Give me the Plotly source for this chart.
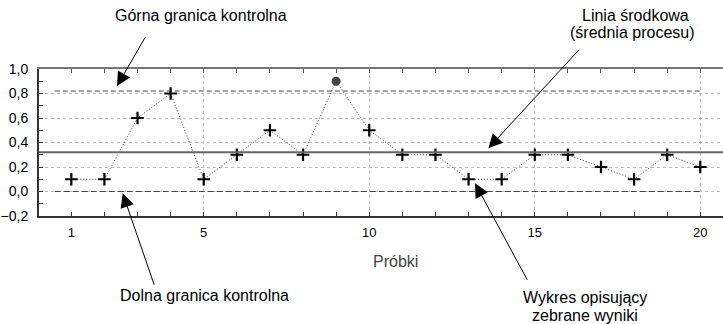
import numpy as np
import plotly.graph_objects as go

# ---- data ----
samples = list(range(1, 21))
values = [0.1, 0.1, 0.6, 0.8, 0.1, 0.3, 0.5, 0.3, 0.9, 0.5,
          0.3, 0.3, 0.1, 0.1, 0.3, 0.3, 0.2, 0.1, 0.3, 0.2]
UCL = 0.82
CENTER = 0.32
LCL = 0.0
x_tick_labels = [1, 5, 10, 15, 20]
x_grid_vals = [5, 10, 15, 20]
x_title = "Próbki"
label_ucl = "Górna granica kontrolna"
label_lcl = "Dolna granica kontrolna"
label_center = ["Linia środkowa", "(średnia procesu)"]
label_series = ["Wykres opisujący", "zebrane wyniki"]

W, H = 723, 324
L, T, B = 39, 69, 216  # plot area pixel edges
XR = [0.024, 20.686]
YR = [-0.2, 1.0]

s = np.array(samples)
v = np.array(values)
out = v > UCL

def px(xp, yp):
    return (xp - L) / (W - L), (B - yp) / (B - T)

fig = go.Figure()

# limit lines
lim_x = [samples[0] - 0.5, samples[-1]]
fig.add_trace(go.Scatter(x=lim_x, y=[UCL, UCL], mode="lines",
                         line=dict(color="#888888", width=1.5, dash="5px,3px"),
                         hoverinfo="skip"))
fig.add_trace(go.Scatter(x=lim_x, y=[LCL, LCL], mode="lines",
                         line=dict(color="#444444", width=1, dash="6px,3px"),
                         hoverinfo="skip"))
# centre line (on overlay axis so that it exists)
fig.add_trace(go.Scatter(x=[XR[0], XR[1] + 1], y=[CENTER, CENTER], mode="lines",
                         line=dict(color="#666666", width=2),
                         xaxis="x2", hoverinfo="skip"))
# data line
fig.add_trace(go.Scatter(x=s, y=v, mode="lines",
                         line=dict(color="#444444", width=1, dash="1px,2px"),
                         hoverinfo="skip"))
fig.add_trace(go.Scatter(x=s[~out], y=v[~out], mode="markers",
                         marker=dict(symbol="cross-thin", size=9,
                                     line=dict(color="#000000", width=2.2)),
                         hoverinfo="skip"))
fig.add_trace(go.Scatter(x=s[out], y=v[out], mode="markers",
                         marker=dict(symbol="circle", size=9, color="#444444"),
                         hoverinfo="skip"))

fig.update_layout(
    width=W, height=H,
    margin=dict(l=L, r=0, t=T, b=H - B, autoexpand=False),
    paper_bgcolor="white", plot_bgcolor="white",
    showlegend=False,
    separators=",.",
    font=dict(family="Liberation Sans, Arial, sans-serif", color="#000000"),
    xaxis=dict(range=XR, tickvals=x_tick_labels, showgrid=False, zeroline=False,
               automargin=False,
               showline=True, linecolor="#333333", linewidth=2,
               ticks="inside", ticklen=4, tickcolor="#333333",
               minor=dict(dtick=1, tick0=0, ticks="inside", ticklen=4, tickcolor="#333333"),
               tickfont=dict(size=13, color="#000000"), ticklabelstandoff=3),
    xaxis2=dict(range=XR, overlaying="x", side="top", anchor="y",
                automargin=False,
                tickvals=x_grid_vals, showticklabels=False,
                showgrid=True, gridcolor="#bbbbbb", griddash="dot", gridwidth=1,
                zeroline=False, showline=True, linecolor="#777777", linewidth=2,
                ticks="inside", ticklen=4, tickcolor="#555555",
                minor=dict(dtick=1, tick0=0, ticks="inside", ticklen=4, tickcolor="#555555")),
    yaxis=dict(range=YR, dtick=0.2, tick0=0, tickformat=".1f",
               automargin=False,
               showgrid=True, gridcolor="#bbbbbb", griddash="dot", gridwidth=1,
               zeroline=False, showline=True, linecolor="#333333", linewidth=2,
               ticks="inside", ticklen=4, tickcolor="#333333",
               minor=dict(dtick=0.1, tick0=0, ticks="inside", ticklen=4, tickcolor="#333333"),
               tickfont=dict(size=14, color="#000000"), ticklabelstandoff=6),
)

ann = []
def text_ann(t, xp, yp, size=16, color="#000000"):
    x, y = px(xp, yp)
    ann.append(dict(text=t, x=x, y=y, xref="paper", yref="paper", showarrow=False,
                    xanchor="center", yanchor="middle",
                    font=dict(size=size, color=color)))

text_ann(label_ucl, 201, 15)
text_ann(label_center[0], 635, 15)
text_ann(label_center[1], 632, 33)
text_ann(label_lcl, 204, 295)
text_ann(label_series[0], 585, 297)
text_ann(label_series[1], 585, 315)
text_ann(x_title, 395, 261, size=16, color="#444444")

def arrow(tip_x, tip_y, ax, ay):
    ann.append(dict(text="", x=tip_x, y=tip_y, xref="x", yref="y",
                    ax=ax, ay=ay, axref="pixel", ayref="pixel",
                    showarrow=True, arrowhead=2, arrowsize=2.8, arrowwidth=1,
                    arrowcolor="#000000", standoff=0))

arrow(2.38, 0.861, 29, -50)
arrow(13.6, 0.353, 92, -100)
arrow(2.553, -0.015, 32, 93)
arrow(13.196, 0.067, 53, 98)

fig.update_layout(annotations=ann)
fig.write_html("out.html", config={"displayModeBar": False},
               post_script="document.body.style.margin='0px';")
